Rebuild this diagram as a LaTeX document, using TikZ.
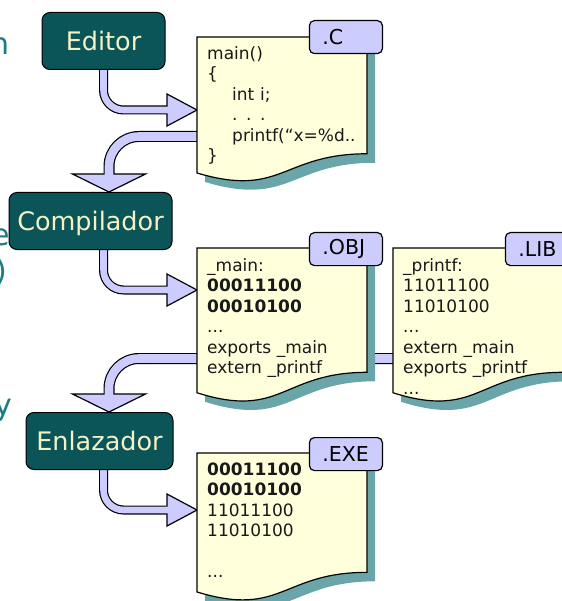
\documentclass[tikz,border=0pt]{standalone}
\usepackage{fontspec}
\setmainfont{DejaVu Sans}
\usetikzlibrary{positioning, calc}

\definecolor{toolteal}{HTML}{0B5558}
\definecolor{toolink}{HTML}{F4F1C6}
\definecolor{flowlav}{HTML}{CCCCFF}
\definecolor{paper}{HTML}{FFFFDC}
\definecolor{papershade}{HTML}{6AA6A9}
\definecolor{slideteal}{HTML}{1C7C84}

\pgfdeclarelayer{flows}
\pgfdeclarelayer{sheets}
\pgfsetlayers{flows,sheets,main}

% fat arrow: outline of the shaft, the head, then the shaft body on top
\newcommand{\fatflow}[3][9pt]{%
  \draw[shaftrim, line width=#1] #2;
  \filldraw[shafthead] #3;
  \draw[shaftbody, line width=#1-2.4pt] #2;}

% file sheet with a wavy lower edge and a shadow, drawn round an empty node
\newcommand{\papersheet}[1]{%
  \fill[papershade] let \p1=($(#1.north west)+(8,9)$), \p2=($(#1.south east)+(8,9)$) in
    (\x1,\y1) -- (\x2,\y1) -- (\x2,{\y1+0.802*(\y2-\y1)})
    .. controls ({(\x1+\x2)/2},{\y1+0.802*(\y2-\y1)}) and ({(\x1+\x2)/2},{\y1+1.107*(\y2-\y1)})
    .. (\x1,{\y1+0.934*(\y2-\y1)}) -- cycle;
  \filldraw[fill=paper, draw=black, line width=1.2pt] let \p1=(#1.north west), \p2=(#1.south east) in
    (\x1,\y1) -- (\x2,\y1) -- (\x2,{\y1+0.802*(\y2-\y1)})
    .. controls ({(\x1+\x2)/2},{\y1+0.802*(\y2-\y1)}) and ({(\x1+\x2)/2},{\y1+1.107*(\y2-\y1)})
    .. (\x1,{\y1+0.934*(\y2-\y1)}) -- cycle;}

\begin{document}
\begin{tikzpicture}[
        x=1pt, y=-1pt,
        tool/.style={rectangle, rounded corners=8pt, draw=black, line width=1pt, fill=toolteal, text=toolink,
            minimum height=57pt, text height=18.6pt, text depth=0pt, font=\fontsize{25.5pt}{30pt}\selectfont},
        sheet/.style={rectangle, anchor=north west, minimum width=170pt, minimum height=#1, inner sep=0pt, outer sep=0pt},
        listing/.style={anchor=base west, inner sep=0pt, text width=165pt, align=left, text=black!90,
            font=\fontsize{17pt}{20.5pt}\selectfont},
        tab/.style={rectangle, rounded corners=5pt, draw=black, line width=1.2pt, fill=flowlav, anchor=north east,
            minimum height=33pt, inner xsep=13pt, text width=47pt, align=left, font=\fontsize{20.5pt}{24pt}\selectfont},
        cut/.style={anchor=base east, inner sep=0pt, text=slideteal, font=\fontsize{30pt}{36pt}\selectfont},
        shaftrim/.style={draw=black, rounded corners=20pt},
        shaftbody/.style={draw=flowlav, rounded corners=20pt},
        shafthead/.style={fill=flowlav, draw=black, line width=1.2pt, line join=miter}
    ]
        \useasboundingbox (0,0) rectangle (561,601);

        % Tools
        \node[tool, minimum width=123pt] (editor) at (103.5,41) {Editor};
        \node[tool, minimum width=163pt] (compilador) at (90.5,221) {Compilador};
        \node[tool, minimum width=147pt] (enlazador) at (99.5,441) {Enlazador};

        % Files
        \node[sheet=145.6pt] (csrc) at (197,37) {};
        \node[sheet=155pt] (obj) at (197,248) {};
        \node[sheet=155pt, right=26pt of obj.north east, anchor=north west] (lib) {};
        \node[sheet=148.8pt] (exe) at (197,453) {};

        \begin{pgfonlayer}{sheets}
            \papersheet{csrc}
            \papersheet{obj}
            \papersheet{lib}
            \papersheet{exe}
        \end{pgfonlayer}

        \node[tab] (ctab) at ($(csrc.north east)+(16,-17)$) {.C};
        \node[tab] (objtab) at ($(obj.north east)+(16,-16)$) {.OBJ};
        \node[tab] (libtab) at ($(lib.north east)+(16,-16)$) {.LIB};
        \node[tab] (exetab) at ($(exe.north east)+(16,-16)$) {.EXE};

        \node[listing] (ctext) at ($(csrc.north west)+(10,22.5)$)
            {main()\\ \{\\ \hspace*{25pt}int i;\\ \hspace*{25pt}. . .\\ \hspace*{25pt}printf(“x=\%d..\\ \}};
        \node[listing] (objtext) at ($(obj.north west)+(10,23)$)
            {\_main:\\ \textbf{00011100}\\ \textbf{00010100}\\ ...\\ exports \_main\\ extern \_printf};
        \node[listing] (libtext) at ($(lib.north west)+(10,23)$)
            {\_printf:\\ 11011100\\ 11010100\\ ...\\ extern \_main\\ exports \_printf\\ ...};
        \node[listing] (exetext) at ($(exe.north west)+(10,22)$)
            {\textbf{00011100}\\ \textbf{00010100}\\ 11011100\\ 11010100\\[20.5pt] ...};

        % Slide text cut at the left edge
        \node[cut] (cutn) at (10,55) {n};
        \node[cut] (cute) at (10,245) {e};
        \node[cut] (cutp) at (7,281) {)};
        \node[cut] (cuty) at (12.5,415) {y};

        % Arrows
        \begin{pgfonlayer}{flows}
            \fatflow{(editor.south) |- ($(csrc.north west)+(-28,73)$)}
                {($(csrc.north west)+(0,73)$) -- ++(-30,-16) -- ++(0,32) -- cycle}
            \fatflow[11pt]{($(csrc.north west)+(5,99.5)$) [rounded corners=30pt] -| ($(compilador.north)+(18.5,-16)$)}
                {($(compilador.north)+(18.5,0)$) -- ++(-36.5,-18) -- ++(73,0) -- cycle}
            \fatflow{($(compilador.south)+(13,0)$) |- ($(obj.north west)+(-28,42)$)}
                {($(obj.north west)+(0,42)$) -- ++(-30,-16) -- ++(0,32) -- cycle}
            \fatflow[11pt]{($(lib.north west)+(5,110.5)$) [rounded corners=30pt] -| ($(enlazador.north)+(9.5,-16)$)}
                {($(enlazador.north)+(9.5,0)$) -- ++(-36.5,-18) -- ++(73,0) -- cycle}
            \fatflow{($(enlazador.south)+(4,0)$) |- ($(exe.north west)+(-28,57)$)}
                {($(exe.north west)+(0,57)$) -- ++(-30,-16) -- ++(0,32) -- cycle}
        \end{pgfonlayer}
    \end{tikzpicture}
\end{document}
